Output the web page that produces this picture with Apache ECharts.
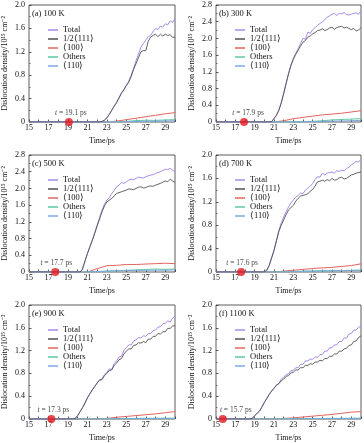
<!DOCTYPE html>
<html><head><meta charset="utf-8">
<script src="https://cdn.jsdelivr.net/npm/echarts@6/dist/echarts.min.js"></script>
<style>html,body{margin:0;padding:0;background:#fff}#c{width:364px;height:443px}</style>
</head><body><div id="c"></div>
<script>
// ---------- DATA ----------
const timeFine = [
15,15.25,15.5,15.75,16,16.25,16.5,16.75,17,17.25,17.5,17.75,18,18.25,18.5,18.75,
19,19.25,19.5,19.75,20,20.25,20.5,20.75,21,21.25,21.5,21.75,22,22.25,22.5,22.75,
23,23.25,23.5,23.75,24,24.25,24.5,24.75,25,25.25,25.5,25.75,26,26.25,26.5,26.75,
27,27.25,27.5,27.75,28,28.25,28.5,28.75,29,29.25,29.5,29.75,30];
const timeCoarse = [15,16,17,18,19,20,21,22,23,24,25,26,27,28,29,30];
const seriesNames = ['Total','1/2⟨111⟩','⟨100⟩','Others','⟨110⟩'];
const panelLabels = ['(a) 100 K','(b) 300 K','(c) 500 K','(d) 700 K','(e) 900 K','(f) 1100 K'];
const yMaxes = [2.0,2.8,2.8,2.0,2.0,2.0];
const onsetTimes = [19.1,17.9,17.7,17.6,17.3,15.7];
const xTickLabels = [15,17,19,21,23,25,27,29];

// Panel (a) 100 K
const totalA = [0,0,0,0, 0,0,0,0, 0,0,0,0, 0,0,0,0, 0,0,0,0, 0,0,0,0, 0,0,0,0,
 0,0,0.01,0.03, 0.07,0.13,0.2,0.27, 0.34,0.42,0.5,0.56, 0.63,0.7,0.8,0.92,
 1.05,1.16,1.28,1.34, 1.4,1.46,1.48,1.55, 1.6,1.58,1.64,1.62, 1.68,1.66,1.73,1.7, 1.77];
const p111A = [0,0,0,0, 0,0,0,0, 0,0,0,0, 0,0,0,0, 0,0,0,0, 0,0,0,0, 0,0,0,0,
 0,0,0.01,0.03, 0.07,0.13,0.2,0.27, 0.33,0.41,0.49,0.55, 0.62,0.68,0.78,0.9,
 1.0,1.1,1.2,1.22, 1.22,1.38,1.45,1.48, 1.5,1.46,1.5,1.47, 1.5,1.48,1.49,1.45, 1.45];
const p100A = [0,0,0,0,0,0,0,0,0,0.015,0.04,0.065,0.09,0.115,0.14,0.16];
const othersA = [0,0,0,0,0,0,0,0,0,0.003,0.01,0.025,0.03,0.028,0.035,0.04];
const p110A = [0,0,0,0,0,0,0,0,0,0,0.005,0.01,0.012,0.015,0.018,0.02];

// Panel (b) 300 K
const totalB = [0,0,0,0, 0,0,0,0, 0,0,0,0, 0,0,0,0, 0,0,0,0,
 0,0,0,0.01, 0.08,0.16,0.28,0.46, 0.68,0.92,1.16,1.36, 1.52,1.64,1.75,1.88,
 2.0,1.98,2.15,2.12, 2.21,2.26,2.31,2.36, 2.39,2.45,2.51,2.54, 2.58,2.6,2.55,2.6,
 2.59,2.62,2.57,2.56, 2.58,2.6,2.61,2.58, 2.66];
const p111B = [0,0,0,0, 0,0,0,0, 0,0,0,0, 0,0,0,0, 0,0,0,0,
 0,0,0,0.01, 0.08,0.16,0.28,0.46, 0.68,0.92,1.15,1.35, 1.5,1.62,1.72,1.82,
 1.91,1.95,2.03,2.06, 2.11,2.14,2.19,2.2, 2.23,2.19,2.21,2.25, 2.27,2.22,2.26,2.28,
 2.29,2.25,2.27,2.24, 2.21,2.24,2.18,2.2, 2.26];
const p100B = [0,0,0,0,0,0,0,0.03,0.08,0.11,0.14,0.17,0.19,0.21,0.24,0.27];
const othersB = [0,0,0,0,0,0,0,0,0,0.005,0.015,0.03,0.05,0.06,0.07,0.08];
const p110B = [0,0,0,0,0,0,0,0,0,0,0.01,0.015,0.02,0.025,0.03,0.04];

// Panel (c) 500 K
const totalC = [0,0,0,0, 0,0,0,0, 0,0,0,0, 0,0,0,0, 0,0,0,0,
 0,0,0.07,0.26, 0.44,0.6,0.76,0.94, 1.12,1.3,1.48,1.62, 1.72,1.78,1.88,1.95,
 2.04,2.08,2.14,2.12, 2.16,2.2,2.22,2.21, 2.24,2.27,2.26,2.25, 2.28,2.3,2.32,2.33,
 2.36,2.38,2.4,2.43, 2.46,2.45,2.48,2.44, 2.4];
const p111C = [0,0,0,0, 0,0,0,0, 0,0,0,0, 0,0,0,0, 0,0,0,0,
 0,0,0.07,0.26, 0.44,0.6,0.75,0.92, 1.1,1.27,1.44,1.58, 1.68,1.72,1.76,1.82,
 1.88,1.9,1.92,1.94, 1.96,1.99,1.98,1.97, 2.0,2.03,2.04,2.01, 2.02,2.05,2.06,2.05,
 2.08,2.1,2.12,2.15, 2.18,2.16,2.22,2.18, 2.14];
const p100C = [0,0,0,0,0,0,0,0.08,0.15,0.16,0.18,0.18,0.19,0.2,0.21,0.2];
const othersC = [0,0,0,0,0,0,0,0.01,0.02,0.03,0.04,0.05,0.06,0.07,0.065,0.07];
const p110C = [0,0,0,0,0,0,0,0.01,0.02,0.03,0.035,0.04,0.04,0.045,0.04,0.05];

// Panel (d) 700 K
const totalD = [0,0,0,0, 0,0,0,0, 0,0,0,0, 0,0,0,0, 0,0,0,0,
 0,0.03,0.11,0.24, 0.37,0.54,0.71,0.84, 0.94,1.03,1.11,1.18, 1.23,1.28,1.31,1.35,
 1.34,1.4,1.43,1.47, 1.51,1.58,1.63,1.62, 1.69,1.66,1.69,1.7, 1.71,1.69,1.73,1.72,
 1.74,1.73,1.77,1.79, 1.83,1.86,1.89,1.88, 1.93];
const p111D = [0,0,0,0, 0,0,0,0, 0,0,0,0, 0,0,0,0, 0,0,0,0,
 0,0.03,0.11,0.24, 0.37,0.53,0.69,0.8, 0.89,0.98,1.06,1.1, 1.14,1.21,1.26,1.3,
 1.31,1.32,1.34,1.38, 1.41,1.47,1.54,1.55, 1.57,1.55,1.58,1.56, 1.6,1.57,1.58,1.61,
 1.62,1.59,1.6,1.63, 1.66,1.67,1.69,1.7, 1.71];
const p100D = [0,0,0,0,0,0,0,0.015,0.03,0.045,0.06,0.07,0.08,0.095,0.11,0.14];
const othersD = [0,0,0,0,0,0,0,0.005,0.01,0.015,0.018,0.02,0.022,0.025,0.028,0.03];
const p110D = [0,0,0,0,0,0,0,0,0.005,0.01,0.015,0.02,0.022,0.025,0.028,0.03];

// Panel (e) 900 K
const totalE = [0,0,0,0, 0,0,0,0, 0,0,0,0, 0,0,0,0,
 0,0,0,0.01, 0.06,0.13,0.2,0.28, 0.37,0.44,0.51,0.57, 0.63,0.69,0.7,0.78,
 0.82,0.88,0.87,0.97, 1.02,1.09,1.1,1.2, 1.25,1.3,1.3,1.37, 1.39,1.43,1.42,1.46,
 1.45,1.5,1.5,1.55, 1.56,1.61,1.62,1.67, 1.68,1.72,1.7,1.77, 1.8];
const p111E = [0,0,0,0, 0,0,0,0, 0,0,0,0, 0,0,0,0,
 0,0,0,0.01, 0.06,0.13,0.2,0.28, 0.37,0.44,0.51,0.57, 0.63,0.68,0.69,0.76,
 0.8,0.85,0.86,0.94, 0.98,1.04,1.06,1.14, 1.19,1.23,1.23,1.29, 1.3,1.34,1.33,1.36,
 1.34,1.4,1.4,1.45, 1.45,1.5,1.49,1.53, 1.53,1.59,1.59,1.63, 1.64];
const p100E = [0,0,0,0,0,0,0,0,0.01,0.03,0.045,0.06,0.075,0.09,0.11,0.13];
const othersE = [0,0,0,0,0,0,0,0,0.005,0.007,0.008,0.01,0.012,0.013,0.014,0.015];
const p110E = [0,0,0,0,0,0,0,0,0,0.003,0.003,0.004,0.004,0.005,0.005,0.005];

// Panel (f) 1100 K
const totalF = [0,0,0,0, 0,0,0,0, 0,0,0,0,
 0,0,0,0.01, 0.06,0.1,0.14,0.21, 0.29,0.36,0.43,0.49, 0.54,0.6,0.62,0.7,
 0.73,0.78,0.79,0.85, 0.85,0.9,0.9,0.96, 0.96,1.02,1.02,1.05, 1.05,1.09,1.08,1.13,
 1.13,1.19,1.19,1.25, 1.25,1.3,1.3,1.36, 1.36,1.42,1.42,1.49, 1.5,1.56,1.56,1.61, 1.63];
const p111F = [0,0,0,0, 0,0,0,0, 0,0,0,0,
 0,0,0,0.01, 0.06,0.1,0.14,0.21, 0.29,0.36,0.43,0.49, 0.54,0.59,0.62,0.67,
 0.7,0.75,0.76,0.81, 0.82,0.86,0.86,0.9, 0.9,0.94,0.94,0.97, 0.96,1.0,1.0,1.03,
 1.02,1.06,1.06,1.1, 1.1,1.14,1.14,1.19, 1.19,1.23,1.24,1.29, 1.3,1.36,1.37,1.43, 1.46];
const p100F = [0,0,0,0,0,0,0,0.01,0.02,0.035,0.05,0.065,0.08,0.1,0.12,0.13];
const othersF = [0,0,0,0,0,0,0,0.005,0.006,0.008,0.009,0.01,0.011,0.012,0.014,0.015];
const p110F = [0,0,0,0,0,0,0,0,0.003,0.003,0.004,0.004,0.004,0.005,0.005,0.005];

const panelData = [
  [totalA,p111A,p100A,othersA,p110A],
  [totalB,p111B,p100B,othersB,p110B],
  [totalC,p111C,p100C,othersC,p110C],
  [totalD,p111D,p100D,othersD,p110D],
  [totalE,p111E,p100E,othersE,p110E],
  [totalF,p111F,p100F,othersF,p110F]
];

// ---------- STYLE / LAYOUT ----------
const FONT = '"Liberation Serif","Times New Roman",serif';
const FS = 8;
const FSL = 8.5;
const colors = ['#a78ae8','#505050','#e2645e','#5ec9a2','#7aa8e4'];
const layout = [
  {l:29,t:5,w:146},{l:216,t:5,w:147},
  {l:29,t:155,w:146},{l:216,t:155,w:147},
  {l:29,t:305,w:146},{l:216,t:305,w:147}
];
const H = 117;
const markDx = [2,4,1,1,2,13];

const grids=[], xAxes=[], yAxes=[], series=[], legends=[], titles=[];
layout.forEach((g,i)=>{
  grids.push({left:g.l, top:g.t, width:g.w, height:H, show:true, borderColor:'#333', borderWidth:0.8, containLabel:false});
  xAxes.push({type:'value', gridIndex:i, min:15, max:30, interval:1,
    axisLine:{show:false}, splitLine:{show:false},
    axisTick:{show:true, inside:true, length:2.5, lineStyle:{color:'#333', width:0.8}},
    axisLabel:{margin:2, fontSize:FS, fontFamily:FONT, color:'#111',
      formatter:v=> xTickLabels.indexOf(v)>=0 ? String(v) : ''},
    name:'Time/ps', nameLocation:'middle', nameGap:15,
    nameTextStyle:{fontSize:FS, fontFamily:FONT, color:'#111'}});
  yAxes.push({type:'value', gridIndex:i, min:0, max:yMaxes[i], interval:0.4,
    axisLine:{show:false}, splitLine:{show:false},
    axisTick:{show:true, inside:true, length:2.5, lineStyle:{color:'#333', width:0.8}},
    minorTick:{show:true, splitNumber:2, length:1.5, lineStyle:{color:'#333', width:0.6}},
    axisLabel:{margin:4, fontSize:FS, fontFamily:FONT, color:'#111',
      formatter:v=> v===0 ? '0' : v.toFixed(1)},
    name:'Dislocation density/10¹⁵ cm⁻²', nameLocation:'middle', nameGap:20,
    nameTextStyle:{fontSize:FS, fontFamily:FONT, color:'#111'}});
  titles.push({text:panelLabels[i], left:g.l+3, top:g.t+4, padding:0,
    textStyle:{fontSize:FSL, fontFamily:FONT, color:'#111', fontWeight:'normal'}});
  legends.push({orient:'vertical', left:g.l+19, top:g.t+20.5, icon:'rect',
    itemWidth:10, itemHeight:1.5, itemGap:0, selectedMode:false, padding:0,
    textStyle:{fontSize:FSL, fontFamily:FONT, color:'#111', lineHeight:8.7},
    data:seriesNames});
  const d = panelData[i];
  [2,3,4].forEach(k=>{
    series.push({type:'line', name:seriesNames[k], xAxisIndex:i, yAxisIndex:i,
      data:timeCoarse.map((t,j)=>[t,d[k][j]]), showSymbol:false, symbol:'none',
      color:colors[k], lineStyle:{width:1, color:colors[k]}, animation:false});
  });
  [0,1].forEach(k=>{
    series.push({type:'line', name:seriesNames[k], xAxisIndex:i, yAxisIndex:i,
      data:timeFine.map((t,j)=>[t,d[k][j]]), showSymbol:false, symbol:'none',
      color:colors[k], lineStyle:{width:k===1?0.9:1, color:colors[k]}, animation:false});
  });
  series.push({type:'scatter', xAxisIndex:i, yAxisIndex:i, data:[[onsetTimes[i],0]],
    symbolSize:8, itemStyle:{color:'#e3191f'}, clip:false, z:10, animation:false,
    label:{show:true, position:'top', distance:1, offset:[markDx[i],0],
      formatter:'{i|t} = '+onsetTimes[i]+' ps', fontSize:7.5, fontFamily:FONT, color:'#111',
      rich:{i:{fontStyle:'italic', fontSize:7.5, fontFamily:FONT, color:'#111'}}}});
});

const chart = echarts.init(document.getElementById('c'), null, {renderer:'canvas'});
chart.setOption({animation:false, backgroundColor:'#fff', title:titles, legend:legends,
  grid:grids, xAxis:xAxes, yAxis:yAxes, series:series});
</script></body></html>
